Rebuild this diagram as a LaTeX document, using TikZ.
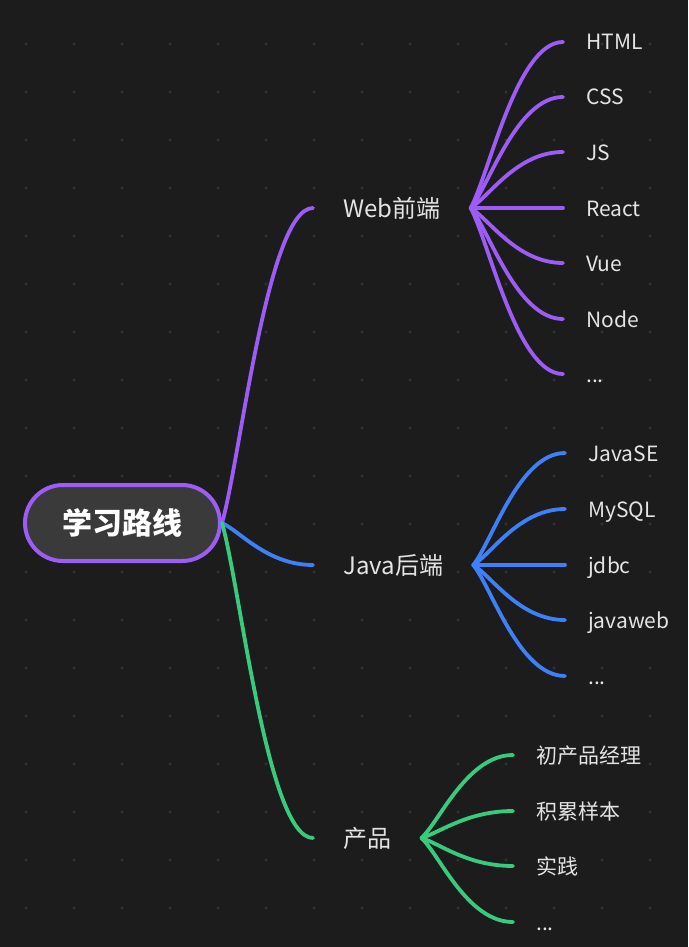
\documentclass[tikz,border=0pt]{standalone}
\usepackage{fontspec}
\setmainfont{Noto Sans CJK SC}
\usetikzlibrary{positioning,calc}

\definecolor{bg}{HTML}{1C1C1C}
\definecolor{griddot}{HTML}{343434}
\definecolor{webcol}{HTML}{9D5CF5}
\definecolor{javacol}{HTML}{3E80F7}
\definecolor{prodcol}{HTML}{38CB7D}
\definecolor{txt}{HTML}{E4E4E4}
\definecolor{rootfill}{HTML}{3A3A3A}

\begin{document}
\begin{tikzpicture}[
    x=1pt,y=-1pt,
    rootbox/.style={rectangle,rounded corners=38pt,draw=webcol,line width=4pt,fill=rootfill,minimum width=195pt,minimum height=76pt,text=white,font=\fontsize{30}{35}\selectfont\bfseries},
    topic/.style={anchor=west,inner xsep=30pt,inner ysep=0pt,text=txt,font=\fontsize{24}{28}\selectfont,text height=21.1pt,text depth=2.9pt},
    leaf/.style={anchor=west,inner xsep=23pt,inner ysep=0pt,text=txt,font=\fontsize{21}{25}\selectfont,text height=18.5pt,text depth=2.5pt},
    branch/.style={line width=3.8pt,line cap=round,to path={.. controls ($(\tikztostart)!0.2!(\tikztotarget)$) and ($(\tikztotarget)!0.5!(\tikztostart |- \tikztotarget)$) .. (\tikztotarget)}}
]
    % Canvas
    \fill[bg] (0,0) rectangle (688,947);
    \useasboundingbox (0,0) rectangle (688,947);
    \foreach \i in {0,...,13}
        \foreach \j in {0,...,18}
            \fill[griddot] (26+48*\i,44+48*\j) circle (1.6pt);

    % Centre
    \node[rootbox] (root) at (122.5,523) {学习路线};

    % Topics
    \node[topic] (web) at (313,208) {Web前端};
    \node[topic] (java) at (313,565) {Java后端};
    \node[topic] (prod) at (313,838) {产品};

    % Web leaves
    \node[leaf] (html) at (563,42) {HTML};
    \node[leaf] (css) at (563,97) {CSS};
    \node[leaf] (js) at (563,152) {JS};
    \node[leaf] (react) at (563,208) {React};
    \node[leaf] (vue) at (563,263) {Vue};
    \node[leaf] (nodejs) at (563,319) {Node};
    \node[leaf] (webmore) at (563,374) {...};

    % Java leaves
    \node[leaf] (javase) at (565,453) {JavaSE};
    \node[leaf] (mysql) at (565,509) {MySQL};
    \node[leaf] (jdbc) at (565,565) {jdbc};
    \node[leaf] (javaweb) at (565,620) {javaweb};
    \node[leaf] (javamore) at (565,676) {...};

    % Product leaves
    \node[leaf] (pm) at (513,755) {初产品经理};
    \node[leaf] (sample) at (513,811) {积累样本};
    \node[leaf] (practice) at (513,866) {实践};
    \node[leaf] (prodmore) at (513,922) {...};

    % Branches
    \draw[branch,webcol] (root.east) to (web.west);
    \draw[branch,javacol] (root.east) to (java.west);
    \draw[branch,prodcol] (root.east) to (prod.west);
    \foreach \n in {html,css,js,react,vue,nodejs,webmore}
        \draw[branch,webcol] (web.east) to (\n.west);
    \foreach \n in {javase,mysql,jdbc,javaweb,javamore}
        \draw[branch,javacol] (java.east) to (\n.west);
    \foreach \n in {pm,sample,practice,prodmore}
        \draw[branch,prodcol] (prod.east) to (\n.west);
\end{tikzpicture}
\end{document}
